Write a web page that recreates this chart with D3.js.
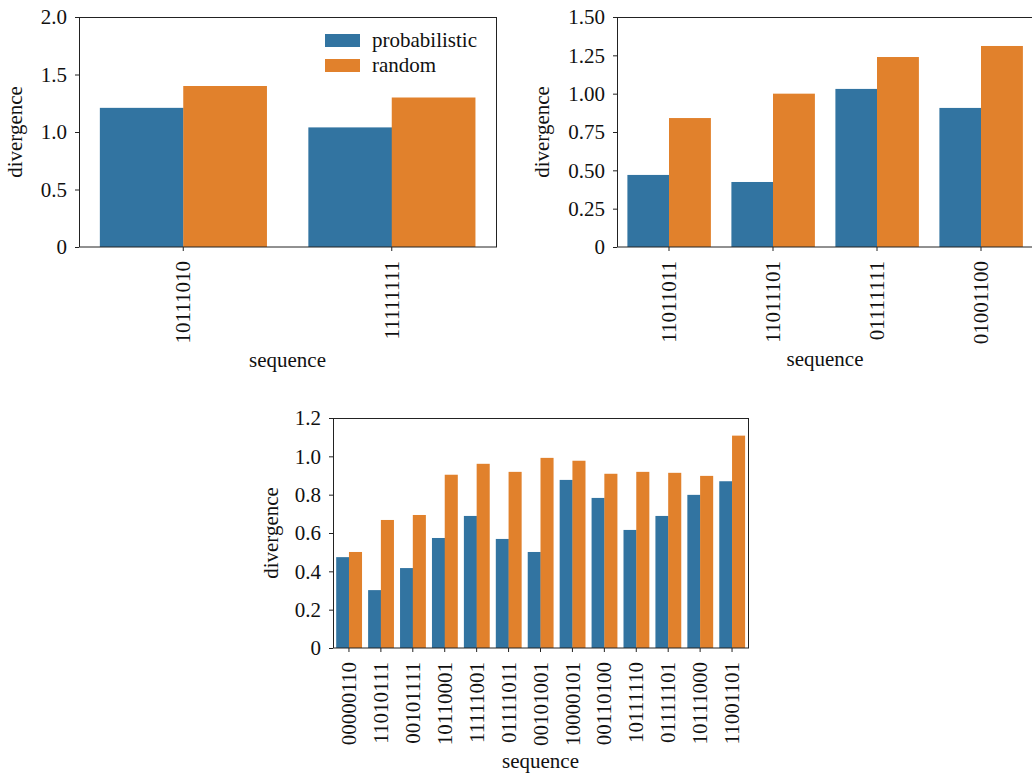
<!DOCTYPE html>
<html>
<head>
<meta charset="utf-8">
<script src="https://cdn.jsdelivr.net/npm/d3@7/dist/d3.min.js"></script>
<style>
  html, body { margin: 0; padding: 0; background: #fff; }
  svg { display: block; }
  text { font-family: "Liberation Serif", "Times New Roman", serif; fill: #111; }
</style>
</head>
<body>
<svg id="fig" width="1032" height="775"></svg>
<script>
// Series names and colours
const seriesNames = ["probabilistic", "random"];
const seriesColors = ["#3274a1", "#e1812c"];

// Panel A
const seqA = ["10111010", "11111111"];
const probA = [1.21, 1.04];
const randA = [1.40, 1.30];
const ticksA = [0, 0.5, 1.0, 1.5, 2.0];
const tickLabelsA = ["0", "0.5", "1.0", "1.5", "2.0"];

// Panel B
const seqB = ["11011011", "11011101", "01111111", "01001100"];
const probB = [0.47, 0.424, 1.031, 0.907];
const randB = [0.841, 1.00, 1.239, 1.311];
const ticksB = [0, 0.25, 0.5, 0.75, 1.0, 1.25, 1.5];
const tickLabelsB = ["0", "0.25", "0.50", "0.75", "1.00", "1.25", "1.50"];

// Panel C
const seqC = ["00000110", "11010111", "00101111", "10110001", "11111001", "01111011", "00101001",
              "10000101", "00110100", "10111110", "01111101", "10111000", "11001101"];
const probC = [0.474, 0.302, 0.417, 0.574, 0.689, 0.569, 0.501, 0.877, 0.783, 0.616, 0.689, 0.799, 0.870];
const randC = [0.501, 0.668, 0.694, 0.904, 0.961, 0.919, 0.992, 0.977, 0.909, 0.919, 0.914, 0.898, 1.108];
const ticksC = [0, 0.2, 0.4, 0.6, 0.8, 1.0, 1.2];
const tickLabelsC = ["0", "0.2", "0.4", "0.6", "0.8", "1.0", "1.2"];

const svg = d3.select("#fig");
const FONT = 21;
const FAMILY = '"Liberation Serif", "Times New Roman", serif';
const SPINE = "#222";

function drawPanel(opts) {
  const { left, top, width, height, cats, values, ticks, tickLabels, yMax, ylabelX, xlabelY, legend } = opts;
  const g = svg.append("g").attr("transform", `translate(${left},${top})`);

  const x0 = d3.scaleBand().domain(cats).range([0, width]).paddingInner(0.2).paddingOuter(0.1);
  const x1 = d3.scaleBand().domain(seriesNames).range([0, x0.bandwidth()]).padding(0);
  const y = d3.scaleLinear().domain([0, yMax]).range([height, 0]);

  const rows = cats.map((c, i) => ({ cat: c, vals: seriesNames.map((s, k) => ({ s, k, v: values[k][i] })) }));

  // bars, one group per sequence
  const grp = g.append("g").selectAll("g").data(rows).join("g")
    .attr("transform", d => `translate(${x0(d.cat)},0)`);
  grp.selectAll("rect").data(d => d.vals).join("rect")
    .attr("x", d => x1(d.s))
    .attr("width", x1.bandwidth() + 0.3)
    .attr("y", d => y(d.v))
    .attr("height", d => height - y(d.v))
    .attr("fill", d => seriesColors[d.k]);

  // y axis
  const yAxis = d3.axisLeft(y).tickValues(ticks).tickFormat((d, i) => tickLabels[i]).tickSize(4).tickPadding(8);
  const ya = g.append("g").call(yAxis).attr("font-family", FAMILY).attr("font-size", FONT);
  ya.select(".domain").remove();
  ya.selectAll("line").attr("stroke", SPINE);
  ya.selectAll("text").attr("fill", "#111");

  // x axis with vertical sequence labels
  const xAxis = d3.axisBottom(x0).tickSize(4).tickPadding(0);
  const xa = g.append("g").attr("transform", `translate(0,${height})`).call(xAxis)
    .attr("font-family", FAMILY).attr("font-size", FONT);
  xa.select(".domain").remove();
  xa.selectAll("line").attr("stroke", SPINE);
  xa.selectAll("text")
    .attr("fill", "#111")
    .attr("transform", "rotate(-90)")
    .attr("text-anchor", "end")
    .attr("x", -14)
    .attr("y", 0)
    .attr("dy", "0.34em");

  // frame
  g.append("rect").attr("x", 0.5).attr("y", 0.5).attr("width", width).attr("height", height - 0.5)
    .attr("fill", "none").attr("stroke", SPINE).attr("stroke-width", 1);

  // axis titles
  g.append("text")
    .attr("transform", `translate(${ylabelX - left},${height / 2}) rotate(-90)`)
    .attr("text-anchor", "middle")
    .style("font-size", FONT + "px")
    .text("divergence");
  g.append("text")
    .attr("x", width / 2).attr("y", xlabelY - top)
    .attr("text-anchor", "middle")
    .style("font-size", FONT + "px")
    .text("sequence");

  if (legend) {
    const lg = svg.append("g").attr("transform", `translate(${legend.x},${legend.y})`);
    seriesNames.forEach((s, k) => {
      lg.append("rect").attr("x", 0).attr("y", k * 25).attr("width", 35).attr("height", 13).attr("fill", seriesColors[k]);
      lg.append("text").attr("x", 47).attr("y", k * 25 + 6.5).attr("dy", "0.32em")
        .style("font-size", FONT + "px").text(s);
    });
  }
}

drawPanel({ left: 79, top: 17, width: 417, height: 230, cats: seqA, values: [probA, randA],
  ticks: ticksA, tickLabels: tickLabelsA, yMax: 2.0, ylabelX: 22, xlabelY: 367,
  legend: { x: 325, y: 34 } });

drawPanel({ left: 617, top: 17, width: 416, height: 230, cats: seqB, values: [probB, randB],
  ticks: ticksB, tickLabels: tickLabelsB, yMax: 1.5, ylabelX: 549, xlabelY: 366 });

drawPanel({ left: 333, top: 418, width: 415, height: 230, cats: seqC, values: [probC, randC],
  ticks: ticksC, tickLabels: tickLabelsC, yMax: 1.2, ylabelX: 278, xlabelY: 768 });
</script>
</body>
</html>
